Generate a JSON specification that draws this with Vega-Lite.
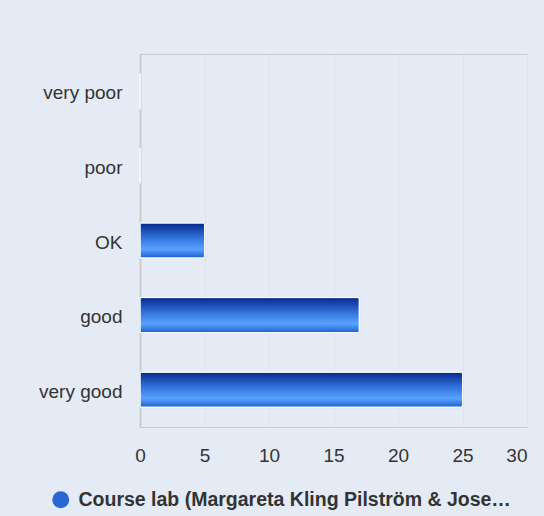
{
  "$schema": "https://vega.github.io/schema/vega-lite/v6.json",
  "width": 387,
  "height": 373,
  "autosize": {"type": "none"},
  "padding": {"left": 140, "top": 54, "right": 17, "bottom": 89},
  "background": "#e4ebf5",
  "data": {
    "values": [
      {"rating": "very poor", "count": 0, "series": "Course lab (Margareta Kling Pilström & Jose…"},
      {"rating": "poor", "count": 0, "series": "Course lab (Margareta Kling Pilström & Jose…"},
      {"rating": "OK", "count": 5, "series": "Course lab (Margareta Kling Pilström & Jose…"},
      {"rating": "good", "count": 17, "series": "Course lab (Margareta Kling Pilström & Jose…"},
      {"rating": "very good", "count": 25, "series": "Course lab (Margareta Kling Pilström & Jose…"}
    ]
  },
  "mark": {
    "type": "bar",
    "cornerRadiusEnd": 2,
    "stroke": "white",
    "strokeWidth": 1,
    "fill": {
      "gradient": "linear",
      "x1": 0, "y1": 0, "x2": 0, "y2": 1,
      "stops": [
        {"offset": 0, "color": "#06288a"},
        {"offset": 0.4, "color": "#2f6fd8"},
        {"offset": 0.75, "color": "#5aa2ff"},
        {"offset": 1, "color": "#1d5fcf"}
      ]
    }
  },
  "encoding": {
    "y": {
      "field": "rating",
      "type": "nominal",
      "sort": ["very poor", "poor", "OK", "good", "very good"],
      "scale": {"paddingInner": 0.53, "paddingOuter": 0.265},
      "axis": {
        "title": null,
        "ticks": false,
        "labelPadding": 18,
        "labelFont": "Liberation Sans",
        "labelFontSize": 19,
        "labelColor": "#333333",
        "labelOffset": 2,
        "domainColor": "#cccccc",
        "domainWidth": 2,
        "grid": false
      }
    },
    "x": {
      "field": "count",
      "type": "quantitative",
      "scale": {"domain": [0, 30]},
      "axis": {
        "title": null,
        "values": [0, 5, 10, 15, 20, 25, 30],
        "ticks": false,
        "domain": false,
        "labelPadding": 19,
        "labelFont": "Liberation Sans",
        "labelFontSize": 19,
        "labelColor": "#333333",
        "labelFlush": false,
        "labelAlign": {"condition": {"test": "datum.value == 30", "value": "right"}, "value": "center"},
        "grid": true,
        "gridColor": "#dfe3e8",
        "gridWidth": 1
      }
    },
    "color": {
      "field": "series",
      "type": "nominal",
      "scale": {"range": ["#2a66d4"]},
      "legend": {
        "title": null,
        "orient": "none",
        "legendX": -89,
        "legendY": 436,
        "symbolType": "circle",
        "symbolSize": 289,
        "symbolStrokeWidth": 0,
        "labelFont": "Liberation Sans",
        "labelFontSize": 19.5,
        "labelFontWeight": "bold",
        "labelColor": "#333333",
        "labelLimit": 500,
        "labelOffset": 8
      }
    }
  },
  "config": {
    "view": {"stroke": "#cccccc", "strokeWidth": 1, "fill": null}
  }
}
